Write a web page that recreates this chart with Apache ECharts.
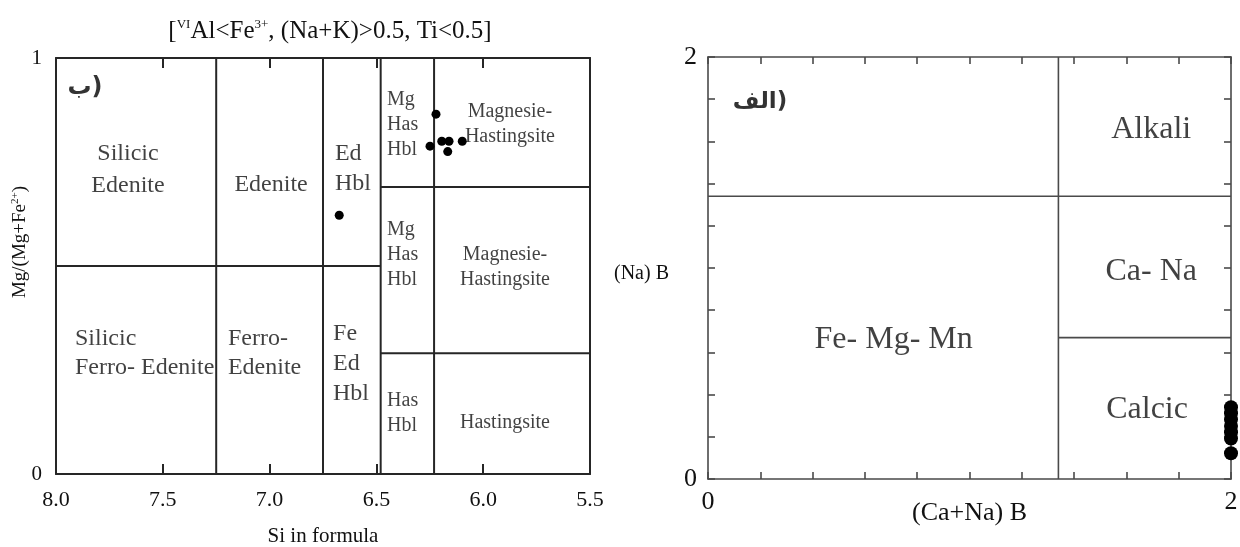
<!DOCTYPE html>
<html>
<head>
<meta charset="utf-8">
<script src="https://cdn.jsdelivr.net/npm/echarts/dist/echarts.min.js"></script>
<style>html,body{margin:0;padding:0;background:#fff;}#c{width:1240px;height:547px;}</style>
</head>
<body>
<div id="c"></div>
<script>
// ---------- data ----------
const leftSi = [6.674, 6.221, 6.249, 6.194, 6.160, 6.166, 6.098];
const leftMg = [0.622, 0.865, 0.788, 0.800, 0.800, 0.775, 0.800];
const rightCaNa = [2.0, 2.0, 2.0, 2.0, 2.0, 2.0, 2.0];
const rightNa = [0.340, 0.312, 0.282, 0.251, 0.222, 0.192, 0.122];

const leftXTickLabels = ['8.0', '7.5', '7.0', '6.5', '6.0', '5.5'];
const leftYTickLabels = ['0', '1'];
const rightTickLabels = ['0', '2'];

// field boundaries (data coordinates)
const leftBoundaries = [
  [[7.25, 0], [7.25, 1]],
  [[6.75, 0], [6.75, 1]],
  [[6.48, 0], [6.48, 1]],
  [[6.23, 0], [6.23, 1]],
  [[8.0, 0.5], [6.48, 0.5]],
  [[6.48, 0.69], [5.5, 0.69]],
  [[6.48, 0.29], [5.5, 0.29]]
];
const rightBoundaries = [
  [[1.34, 0], [1.34, 2]],
  [[0, 1.34], [2, 1.34]],
  [[1.34, 0.67], [2, 0.67]]
];

// field names (anchor in data coordinates)
const leftNamesLargeCenter = [
  ['Silicic\nEdenite', 7.663, 0.732],
  ['Edenite', 6.993, 0.696]
];
const leftNamesLargeLeft = [
  ['Silicic\nFerro- Edenite', 7.911, 0.291],
  ['Ferro-\nEdenite', 7.195, 0.291]
];
const leftNamesNarrow = [
  ['Ed\nHbl', 6.694, 0.735],
  ['Fe\nEd\nHbl', 6.703, 0.264]
];
const leftNamesSmallLeft = [
  ['Mg\nHas\nHbl', 6.45, 0.840],
  ['Mg\nHas\nHbl', 6.45, 0.528],
  ['Has\nHbl', 6.45, 0.146]
];
const leftNamesSmallCenter = [
  ['Magnesie-\nHastingsite', 5.875, 0.841],
  ['Magnesie-\nHastingsite', 5.898, 0.497],
  ['Hastingsite', 5.898, 0.122]
];
const leftPanelTag = [['ب)', 7.864, 0.928]];
const rightNames = [
  ['Alkali', 1.695, 1.655],
  ['Ca- Na', 1.695, 0.985],
  ['Calcic', 1.679, 0.33],
  ['Fe- Mg- Mn', 0.71, 0.662]
];
const rightPanelTag = [['الف)', 0.199, 1.785]];

// ---------- build ----------
const SERIF = '"Liberation Serif", "DejaVu Serif", serif';
const ARAB = '"DejaVu Sans", "Noto Sans", sans-serif';
const INK = '#111';
const LINE = '#262626';
const LINE2 = '#4a4a4a';

function seg(pairs, xi, yi, color, w) {
  return pairs.map(p => ({
    type: 'line', xAxisIndex: xi, yAxisIndex: yi, data: p, symbol: 'none',
    silent: true, animation: false, z: 3,
    lineStyle: { color: color, width: w }
  }));
}
function names(list, xi, yi, opt) {
  return {
    type: 'scatter', xAxisIndex: xi, yAxisIndex: yi, symbolSize: 0, silent: true,
    animation: false, z: 4, clip: false,
    data: list.map(n => ({ name: n[0], value: [n[1], n[2]] })),
    label: Object.assign({
      show: true, position: 'inside', formatter: p => p.name,
      fontFamily: SERIF, color: INK
    }, opt)
  };
}
function near(v, t) { return Math.abs(v - t) < 1e-6; }
function pick(list) { return v => list.find(t => near(parseFloat(t), v)) || ''; }

function frameAxis(extra, color, w, tickLen) {
  return Object.assign({
    type: 'value',
    nameMoveOverlap: false,
    axisLine: { show: true, onZero: false, lineStyle: { color: color, width: w } },
    axisTick: tickLen ? { show: true, inside: true, length: tickLen, lineStyle: { color: color, width: w } } : { show: false },
    splitLine: { show: false },
    axisLabel: { show: false }
  }, extra);
}

const option = {
  animation: false,
  backgroundColor: '#fff',
  grid: [
    { left: 56, top: 58, width: 534, height: 416, containLabel: false, outerBoundsMode: 'none' },
    { left: 708, top: 57, width: 523, height: 422, containLabel: false, outerBoundsMode: 'none' }
  ],
  xAxis: [
    frameAxis({ gridIndex: 0, min: 5.5, max: 8.0, interval: 0.5, inverse: true, position: 'bottom',
      axisLabel: { show: true, margin: 15, fontFamily: SERIF, fontSize: 22, color: INK, formatter: pick(leftXTickLabels) },
      name: 'Si in formula', nameLocation: 'middle', nameGap: 52,
      nameTextStyle: { fontFamily: SERIF, fontSize: 21, color: INK, verticalAlign: 'top' } }, LINE, 2, 10),
    frameAxis({ gridIndex: 0, min: 5.5, max: 8.0, interval: 0.5, inverse: true, position: 'top' }, LINE, 2, 10),
    frameAxis({ gridIndex: 1, min: 0, max: 2, interval: 0.2, position: 'bottom',
      axisLabel: { show: true, margin: 10, fontFamily: SERIF, fontSize: 26, color: INK, formatter: pick(rightTickLabels) },
      name: '(Ca+Na) B', nameLocation: 'middle', nameGap: 21,
      nameTextStyle: { fontFamily: SERIF, fontSize: 26, color: INK, verticalAlign: 'top' } }, LINE2, 1.6, 7),
    frameAxis({ gridIndex: 1, min: 0, max: 2, interval: 0.2, position: 'top' }, LINE2, 1.6, 7)
  ],
  yAxis: [
    frameAxis({ gridIndex: 0, min: 0, max: 1, interval: 1, position: 'left',
      axisLabel: { show: true, margin: 14, fontFamily: SERIF, fontSize: 21, color: INK, formatter: pick(leftYTickLabels) } }, LINE, 2, 0),
    frameAxis({ gridIndex: 0, min: 0, max: 1, interval: 1, position: 'right' }, LINE, 2, 0),
    frameAxis({ gridIndex: 1, min: 0, max: 2, interval: 0.2, position: 'left',
      axisLabel: { show: true, margin: 11, fontFamily: SERIF, fontSize: 26, color: INK, formatter: pick(rightTickLabels), padding: [4, 0, 0, 0] },
      name: '{n|(Na) B}', nameLocation: 'middle', nameRotate: 0, nameGap: 39,
      nameTextStyle: { fontFamily: SERIF, fontSize: 20, color: INK, verticalAlign: 'middle',
        rich: { n: { fontFamily: SERIF, fontSize: 20, color: INK, padding: [12, 0, 0, 0] } } } }, LINE2, 1.6, 7),
    frameAxis({ gridIndex: 1, min: 0, max: 2, interval: 0.2, position: 'right' }, LINE2, 1.6, 7)
  ],
  graphic: [
    { type: 'text', x: 330, y: 31, silent: true,
      style: {
        text: '{b|[}{s|VI}{b|Al<Fe}{s|3+}{b|, (Na+K)>0.5, Ti<0.5]}',
        align: 'center', verticalAlign: 'middle',
        rich: {
          b: { fontFamily: SERIF, fontSize: 25, fill: INK },
          s: { fontFamily: SERIF, fontSize: 13, fill: INK, padding: [0, 0, 12, 0] }
        }
      } },
    { type: 'text', x: 20, y: 242, rotation: Math.PI / 2, silent: true,
      style: {
        text: '{a|Mg/(Mg+Fe}{s|2+}{a|)}',
        align: 'center', verticalAlign: 'middle',
        rich: {
          a: { fontFamily: SERIF, fontSize: 19, fill: INK },
          s: { fontFamily: SERIF, fontSize: 11, fill: INK, padding: [0, 0, 9, 0] }
        }
      } }
  ],
  series: [].concat(
    seg(leftBoundaries, 0, 0, LINE, 2),
    seg(rightBoundaries, 2, 2, LINE2, 1.6),
    [
      names(leftNamesLargeCenter, 0, 0, { fontSize: 24, align: 'center', lineHeight: 32 }),
      names(leftNamesLargeLeft, 0, 0, { fontSize: 24, align: 'left', lineHeight: 29 }),
      names(leftNamesNarrow, 0, 0, { fontSize: 24, align: 'left', lineHeight: 30 }),
      names(leftNamesSmallLeft, 0, 0, { fontSize: 20, align: 'left', lineHeight: 25 }),
      names(leftNamesSmallCenter, 0, 0, { fontSize: 20, align: 'center', lineHeight: 25 }),
      names(leftPanelTag, 0, 0, { fontSize: 24, fontWeight: 'bold', fontFamily: ARAB, align: 'center', color: '#000' }),
      names(rightNames, 2, 2, { fontSize: 32, align: 'center' }),
      names(rightPanelTag, 2, 2, { fontSize: 23, fontWeight: 'bold', fontFamily: ARAB, align: 'center', color: '#000' }),
      { type: 'scatter', xAxisIndex: 0, yAxisIndex: 0, symbol: 'circle', symbolSize: 9,
        clip: false, z: 5, itemStyle: { color: '#000', opacity: 1 },
        data: leftSi.map((v, i) => [v, leftMg[i]]) },
      { type: 'scatter', xAxisIndex: 2, yAxisIndex: 2, symbol: 'circle', symbolSize: 14,
        clip: false, z: 5, itemStyle: { color: '#000', opacity: 1 },
        data: rightCaNa.map((v, i) => [v, rightNa[i]]) }
    ]
  )
};

const chart = echarts.init(document.getElementById('c'), null, { renderer: 'canvas' });
chart.setOption(option);
</script>
</body>
</html>
